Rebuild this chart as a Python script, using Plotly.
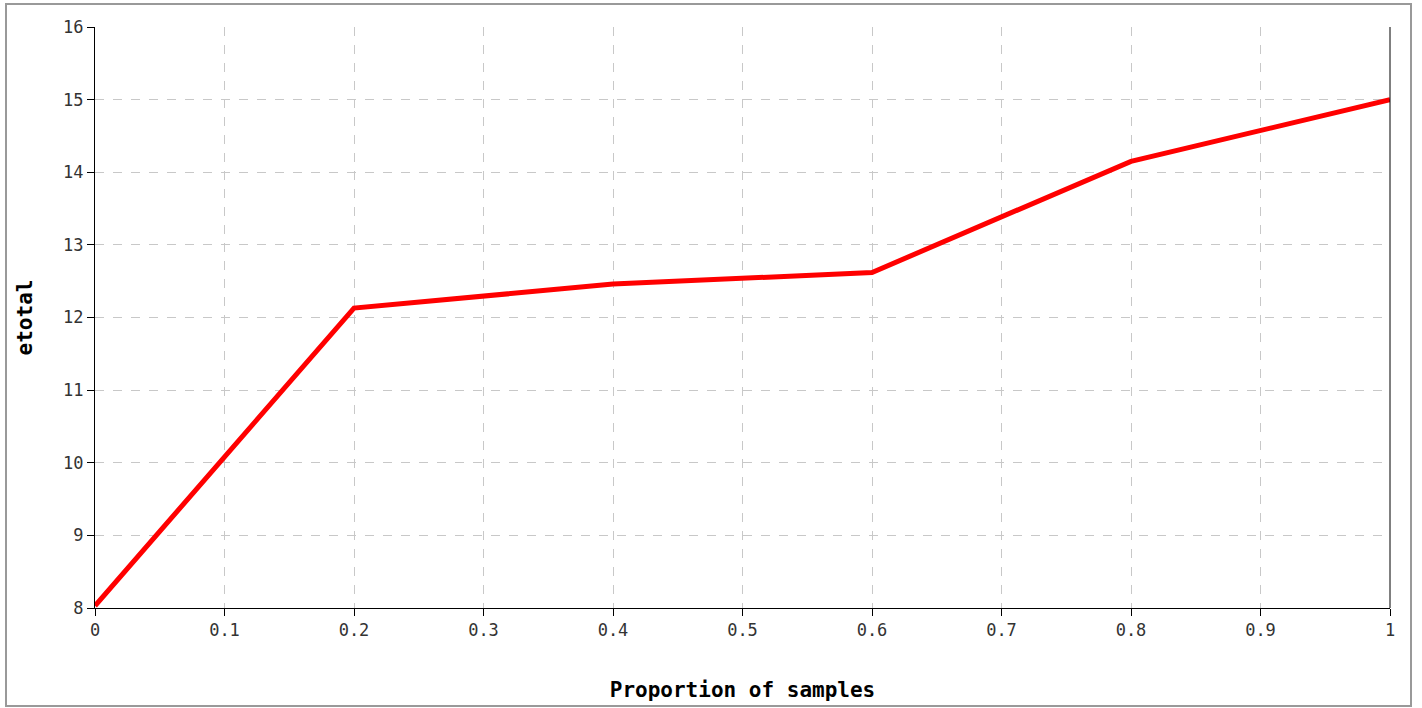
import plotly.graph_objects as go

proportion = [0, 0.2, 0.4, 0.6, 0.8, 1.0]
etotal = [8.03, 12.13, 12.46, 12.62, 14.15, 15.0]

x_title = "Proportion of samples"
y_title = "etotal"

font_family = "DejaVu Sans Mono"

fig = go.Figure()
fig.add_trace(go.Scatter(
    x=proportion, y=etotal, mode="lines",
    line=dict(color="#ff0000", width=5),
    hoverinfo="x+y", showlegend=False,
))

axis_common = dict(
    showgrid=True, gridcolor="#c8c8c8", griddash="dash", gridwidth=1,
    showline=True, linecolor="#000000", linewidth=1,
    ticks="outside", ticklen=7, tickcolor="#000000", tickwidth=1,
    zeroline=False,
    tickfont=dict(family=font_family, size=17, color="#333333"),
)

fig.update_layout(
    width=1422, height=708,
    margin=dict(l=95, r=32, t=27, b=100),
    paper_bgcolor="white", plot_bgcolor="white",
    xaxis=dict(range=[0, 1], dtick=0.1, tick0=0,
               title=dict(text="<b>" + x_title + "</b>", standoff=42,
                          font=dict(family=font_family, size=21, color="#000000")),
               **axis_common),
    yaxis=dict(range=[8, 16], dtick=1, tick0=8,
               title=dict(text="<b>" + y_title + "</b>", standoff=24,
                          font=dict(family=font_family, size=21, color="#000000")),
               **axis_common),
    shapes=[
        dict(type="line", xref="paper", yref="paper", x0=1, x1=1, y0=0, y1=1,
             line=dict(color="#000000", width=1)),
        dict(type="rect", xref="paper", yref="paper",
             x0=(6 - 95) / 1295, x1=(1411 - 95) / 1295,
             y0=(608 - 706) / 581, y1=(608 - 4) / 581,
             line=dict(color="#999999", width=2), layer="below"),
    ],
)

fig.write_html("out.html")
